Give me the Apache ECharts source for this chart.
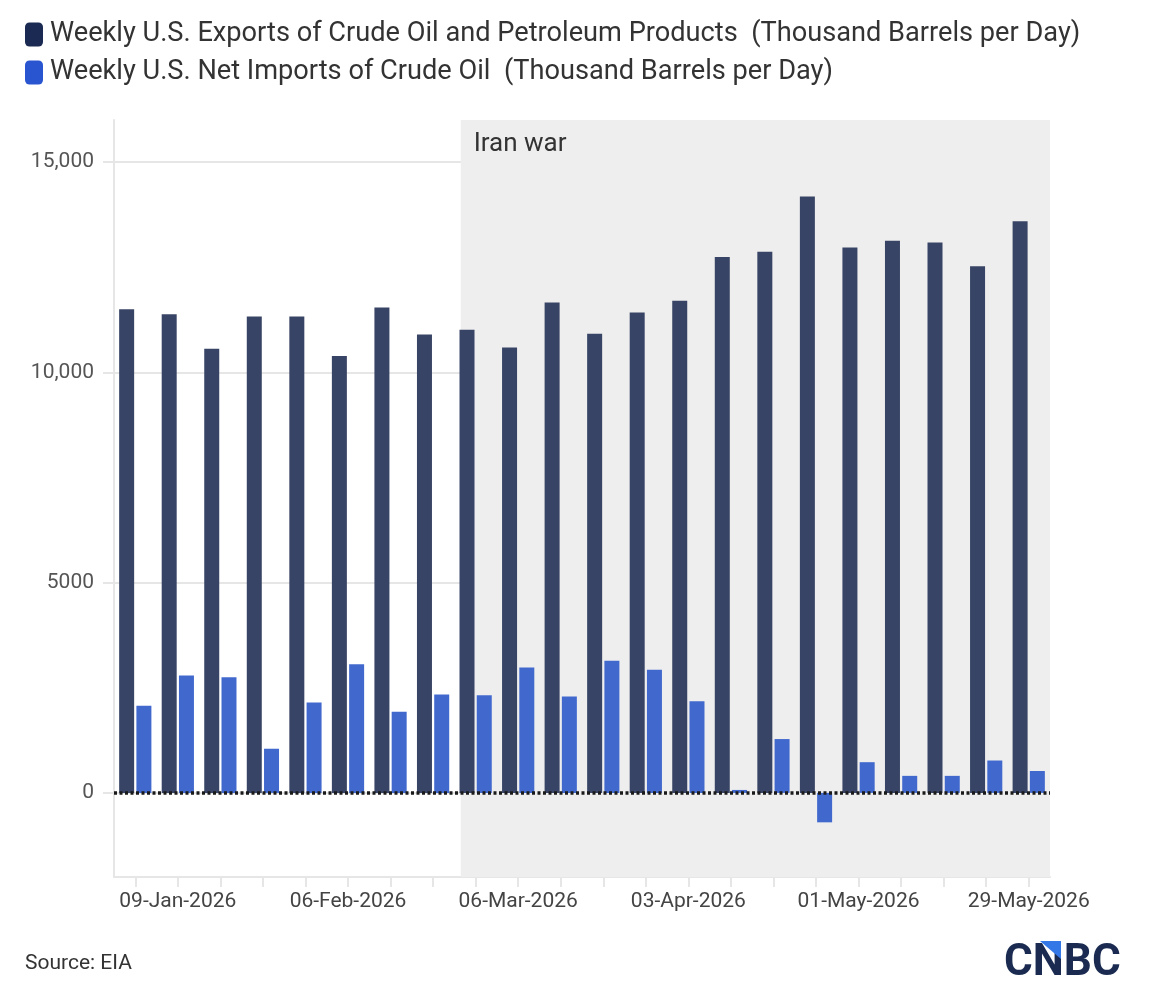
<!DOCTYPE html>
<html>
<head>
<meta charset="utf-8">
<script src="https://cdn.jsdelivr.net/npm/echarts@6/dist/echarts.min.js"></script>
<style>
  html, body { margin: 0; padding: 0; background: #fff; }
  #chart { width: 1160px; height: 1004px; }
</style>
</head>
<body>
<div id="chart"></div>
<script>
const weeks = ['02-Jan-2026', '09-Jan-2026', '16-Jan-2026', '23-Jan-2026', '30-Jan-2026', '06-Feb-2026',
  '13-Feb-2026', '20-Feb-2026', '27-Feb-2026', '06-Mar-2026', '13-Mar-2026', '20-Mar-2026', '27-Mar-2026',
  '03-Apr-2026', '10-Apr-2026', '17-Apr-2026', '24-Apr-2026', '01-May-2026', '08-May-2026', '15-May-2026',
  '22-May-2026', '29-May-2026'];
const exportsTotal = [11500, 11380, 10560, 11330, 11330, 10390, 11540, 10900, 11010, 10590, 11660,
  10920, 11420, 11700, 12740, 12870, 14180, 12970, 13130, 13090, 12520, 13590];
const netImports = [2070, 2790, 2750, 1050, 2150, 3060, 1930, 2340, 2320, 2980, 2290,
  3140, 2930, 2180, 70, 1280, -700, 730, 405, 405, 770, 520];
const yTicks = [0, 5000, 10000, 15000];
// war shading, in category units (0 = left edge of first week)
const warStart = 8.15;
const warLabel = 'Iran war';

const exportsName = 'Weekly U.S. Exports of Crude Oil and Petroleum Products  (Thousand Barrels per Day)';
const importsName = 'Weekly U.S. Net Imports of Crude Oil  (Thousand Barrels per Day)';
const gridColor = '#e6e6e6';
const font = 'Roboto, sans-serif';

const chart = echarts.init(document.getElementById('chart'));

const opts = {
  animation: false,
  textStyle: { fontFamily: font },
  legend: {
    orient: 'vertical',
    left: 25,
    top: 21,
    padding: 0,
    itemWidth: 18,
    itemHeight: 24,
    itemGap: 11,
    icon: 'roundRect',
    textStyle: {
      fontSize: 27.2,
      lineHeight: 24,
      color: '#333',
      padding: [0, 0, 0, 2],
    },
    data: [
      { name: exportsName, itemStyle: { color: '#1b2a52' } },
      { name: importsName, itemStyle: { color: '#2a55d0' } },
    ],
  },
  grid: { left: 114, right: 110, top: 120, bottom: 127 },
  xAxis: [
    {
      type: 'category',
      data: weeks,
      axisLine: { onZero: false, lineStyle: { color: gridColor, width: 2 } },
      axisTick: { show: true, interval: 0, alignWithLabel: true, length: 10, lineStyle: { color: gridColor, width: 2 } },
      axisLabel: {
        interval: (i) => i % 4 === 1,
        margin: 14,
        fontSize: 21,
        color: '#444',
      },
    },
    { type: 'value', min: 0, max: weeks.length, show: false },
  ],
  yAxis: {
    type: 'value',
    min: -2000,
    max: 16000,
    interval: 1000,
    axisLine: { show: true, lineStyle: { color: gridColor, width: 2 } },
    axisTick: { show: true, customValues: yTicks, length: 11, lineStyle: { color: gridColor, width: 2 } },
    splitLine: { show: true, customValues: yTicks, lineStyle: { color: gridColor, width: 2 } },
    axisLabel: {
      customValues: yTicks,
      margin: 20,
      fontSize: 21,
      color: '#555',
      formatter: (v) => (v >= 10000 ? v.toLocaleString('en-US') : String(v)),
    },
  },
  series: [
    {
      name: 'war',
      type: 'line',
      xAxisIndex: 1,
      data: [],
      z: -1,
      silent: true,
      markArea: {
        silent: true,
        itemStyle: { color: '#eeeeee' },
        label: {
          show: true,
          position: 'insideTopLeft',
          distance: 0,
          padding: [11, 0, 0, 13],
          fontSize: 26,
          color: '#333',
        },
        data: [[{ name: warLabel, xAxis: warStart }, { xAxis: weeks.length }]],
      },
    },
    {
      name: exportsName,
      type: 'bar',
      data: exportsTotal,
      barWidth: 15,
      barGap: '15%',
      itemStyle: { color: '#384465' },
    },
    {
      name: importsName,
      type: 'bar',
      data: netImports,
      barWidth: 15,
      itemStyle: { color: '#4068cd' },
    },
    {
      name: 'zero',
      type: 'line',
      data: [],
      z: 10,
      silent: true,
      markLine: {
        silent: true,
        symbol: 'none',
        label: { show: false },
        lineStyle: { color: '#1a1a1a', width: 3.5, type: [3, 2.5] },
        data: [{ yAxis: 0 }],
      },
    },
  ],
  graphic: [
    {
      type: 'text',
      left: 25,
      top: 953,
      style: { text: 'Source: EIA', fontSize: 21, fill: '#333', fontFamily: font },
    },
    {
      type: 'text',
      left: 1004,
      top: 942,
      style: { text: 'CNBC', fontSize: 44, fontWeight: 'bold', fill: '#1a2a50', fontFamily: font },
    },
    {
      type: 'polygon',
      shape: { points: [[1040, 941], [1061, 941], [1061, 959]] },
      style: { fill: '#3477e6' },
    },
  ],
};

chart.setOption(opts);
</script>
</body>
</html>
